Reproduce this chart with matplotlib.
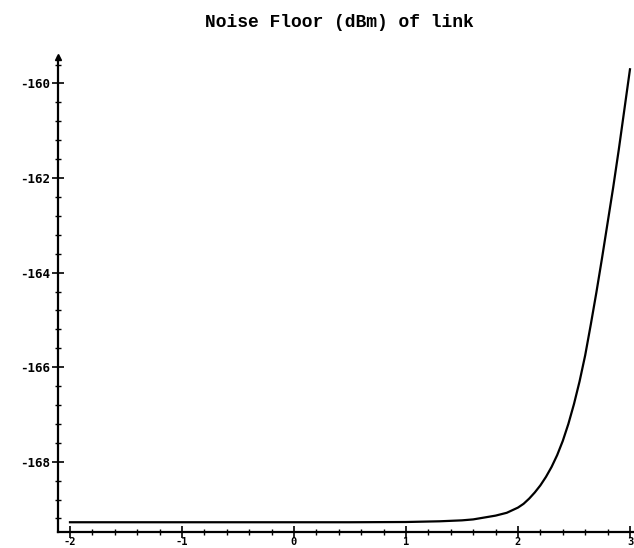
import matplotlib
matplotlib.use("Agg")
import matplotlib.pyplot as plt
from matplotlib.ticker import AutoMinorLocator

# values
x = [-2.0, -1.0, 0.0, 0.5, 1.0, 1.3, 1.5, 1.6, 1.7, 1.8, 1.9, 2.0, 2.05, 2.1,
     2.15, 2.2, 2.25, 2.3, 2.35, 2.4, 2.45, 2.5, 2.55, 2.6, 2.65, 2.7, 2.75,
     2.8, 2.85, 2.9, 2.95, 3.0]
y = [-169.28, -169.28, -169.28, -169.28, -169.275, -169.26, -169.24, -169.22,
     -169.18, -169.14, -169.08, -168.97, -168.89, -168.78, -168.65, -168.50,
     -168.32, -168.11, -167.86, -167.56, -167.20, -166.78, -166.30, -165.75,
     -165.10, -164.42, -163.70, -162.95, -162.20, -161.40, -160.55, -159.70]

xticks = [-2, -1, 0, 1, 2, 3]
yticks = [-168, -166, -164, -162, -160]

fig = plt.figure(figsize=(6.34, 5.48), dpi=100)
ax = fig.add_axes([58 / 634, 1 - 531.7 / 548, 575 / 634, (531.7 - 57) / 548])

ax.plot(x, y, color="black", lw=1.6)

ax.set_xlim(-2.107, 3.027)
ax.set_ylim(-169.48, -159.44)

for s in ["top", "right"]:
    ax.spines[s].set_visible(False)
for s in ["left", "bottom"]:
    ax.spines[s].set_linewidth(1.6)

# small arrow tip on the y axis
ax.plot([0], [1], marker="^", color="black", ms=4, transform=ax.transAxes,
        clip_on=False)

ax.set_xticks(xticks)
ax.set_yticks(yticks)
ax.xaxis.set_minor_locator(AutoMinorLocator(5))
ax.yaxis.set_minor_locator(AutoMinorLocator(5))
ax.tick_params(which="major", direction="inout", length=9, width=1.2, pad=1)
ax.tick_params(which="minor", direction="inout", length=5, width=1.0)
ax.tick_params(axis="x", which="major", pad=-1)

ax.set_xticklabels([str(t) for t in xticks],
                   fontdict={"family": "DejaVu Sans Mono", "weight": "bold", "size": 7.5})
ax.set_yticklabels([str(t) for t in yticks],
                   fontdict={"family": "DejaVu Sans Mono", "weight": "bold", "size": 9})

fig.text(0.535, 0.975, "Noise Floor (dBm) of link", ha="center", va="top",
         family="Liberation Mono", weight="bold", fontsize=13)

fig.savefig("out.png", dpi=100)
